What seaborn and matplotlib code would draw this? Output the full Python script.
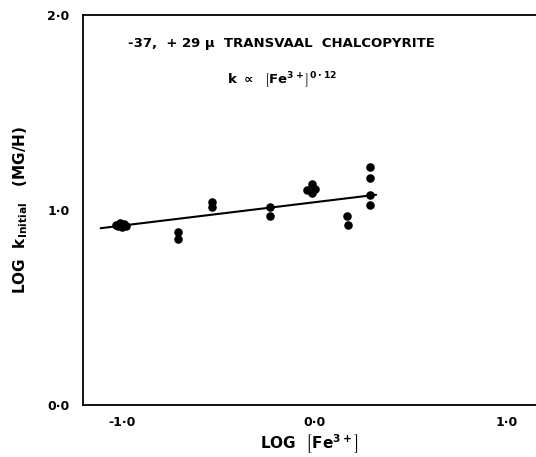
import numpy as np
import pandas as pd
import matplotlib
matplotlib.use("Agg")
import matplotlib.pyplot as plt
import seaborn as sns

# data
log_fe = [-1.03, -1.01, -0.99, -0.98, -1.0, -1.02,
          -0.71, -0.71,
          -0.53, -0.53,
          -0.23, -0.23,
          -0.015, -0.037, 0.003, -0.015,
          0.167, 0.173,
          0.289, 0.29, 0.289, 0.29]
log_k = [0.925, 0.935, 0.93, 0.92, 0.915, 0.92,
         0.888, 0.85,
         1.043, 1.014,
         1.014, 0.967,
         1.134, 1.103, 1.108, 1.086,
         0.971, 0.923,
         1.22, 1.163, 1.077, 1.026]
fit_slope = 0.12
fit_intercept = 1.04
fit_x = [-1.11, 0.32]

xticks = [-1.0, 0.0, 1.0]
xticklabels = ["-1·0", "0·0", "1·0"]
yticks = [0.0, 1.0, 2.0]
yticklabels = ["0·0", "1·0", "2·0"]

df = pd.DataFrame({"x": log_fe, "y": log_k})
fit = pd.DataFrame({"x": fit_x, "y": [fit_intercept + fit_slope * v for v in fit_x]})

sns.set_theme(style="white")
plt.rcParams['font.family'] = ['DejaVu Sans']
plt.rcParams['text.color'] = 'black'
plt.rcParams['axes.labelcolor'] = 'black'
plt.rcParams['xtick.color'] = 'black'
plt.rcParams['ytick.color'] = 'black'
plt.rcParams['mathtext.default'] = 'bf'

fig = plt.figure(figsize=(5.36, 4.57), dpi=100)
ax = fig.add_axes([0.1554, 0.1138, 0.8446, 0.8532])

sns.lineplot(data=fit, x="x", y="y", color="black", linewidth=1.5, ax=ax)
sns.scatterplot(data=df, x="x", y="y", color="black", s=38, edgecolor="black", linewidth=0, ax=ax)

ax.set_xlim(-1.2, 1.15)
ax.set_ylim(0.0, 2.0)
ax.set_xticks(xticks)
ax.set_xticklabels(xticklabels, fontsize=9, fontweight="bold")
ax.set_yticks(yticks)
ax.set_yticklabels(yticklabels, fontsize=9, fontweight="bold")
ax.tick_params(direction="in", length=8, width=1.2, color="black", pad=10)
ax.tick_params(axis="x", pad=8)

for s in ["left", "bottom", "top"]:
    ax.spines[s].set_color("black")
    ax.spines[s].set_linewidth(1.3)
ax.spines["right"].set_visible(False)

ax.set_xlabel(r"LOG  $\left[Fe^{3+}_{\ }\right]$", fontsize=11, fontweight="bold", labelpad=2)
ax.set_ylabel(r"LOG  k$_{Initial}$   (MG/H)", fontsize=11, fontweight="bold", labelpad=12)

ax.text(-0.17, 1.855, "-37,  + 29 μ  TRANSVAAL  CHALCOPYRITE", ha="center", va="center",
        fontsize=9.5, fontweight="bold")
ax.text(-0.17, 1.665, r"k $\propto$  $\left[Fe^{3+}_{\ }\right]^{0\cdot 12}$",
        ha="center", va="center", fontsize=9.5, fontweight="bold")

fig.savefig("out.png", dpi=100)
